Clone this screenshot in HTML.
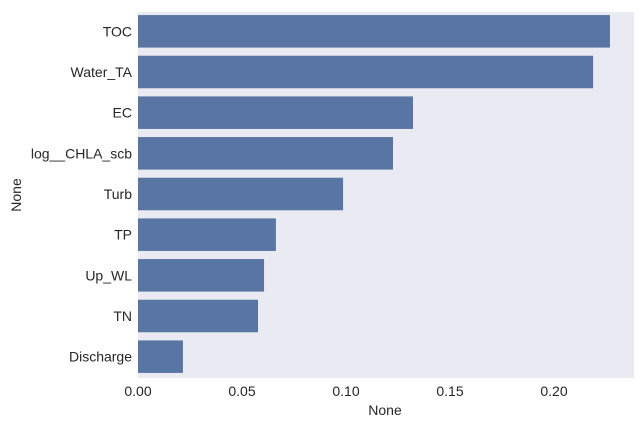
<!DOCTYPE html>
<html><head><meta charset="utf-8"><style>
body{margin:0;background:#fff;}
text{font-family:"Liberation Sans","DejaVu Sans",sans-serif;font-size:14px;fill:#262626;}
</style></head><body>
<svg id="chart" width="644" height="428">
<rect x="138" y="12" width="496" height="366" fill="#EAEAF2"/>
<g id="bars"></g><g id="yticks"></g><g id="xticks"></g>
<text x="385" y="415" text-anchor="middle">None</text>
<text x="0" y="0" transform="translate(21,195) rotate(-90)" text-anchor="middle">None</text>
</svg>
<script>
const categories=["TOC","Water_TA","EC","log__CHLA_scb","Turb","TP","Up_WL","TN","Discharge"];
const values=[0.2269,0.2188,0.1322,0.1226,0.0986,0.0663,0.0606,0.0577,0.0216];
const xTicks=[0,0.05,0.10,0.15,0.20];
const xTickLabels=["0.00","0.05","0.10","0.15","0.20"];
const ns="http://www.w3.org/2000/svg";
const x0=138,pxPerUnit=2080,plotTop=11,plotH=366;
const band=plotH/categories.length;
const xs=v=>x0+v*pxPerUnit;
const ys=i=>plotTop+i*band;
const bars=document.getElementById('bars'),yt=document.getElementById('yticks'),xt=document.getElementById('xticks');
categories.forEach((c,i)=>{
 const r=document.createElementNS(ns,'rect');
 r.setAttribute('x',x0);r.setAttribute('y',ys(i)+band*0.1);
 r.setAttribute('width',xs(values[i])-x0);r.setAttribute('height',band*0.8);
 r.setAttribute('fill','#5975A4');
 
 
 bars.appendChild(r);
 const t=document.createElementNS(ns,'text');
 t.setAttribute('x',x0-6);t.setAttribute('y',ys(i)+band/2+5);
 t.setAttribute('text-anchor','end');t.textContent=c;
 
 
 yt.appendChild(t);
});
xTicks.forEach((v,i)=>{
 const t=document.createElementNS(ns,'text');
 t.setAttribute('x',xs(v));t.setAttribute('y',396);
 t.setAttribute('text-anchor','middle');t.textContent=xTickLabels[i];
 
 
 xt.appendChild(t);
});
</script>
</body></html>
